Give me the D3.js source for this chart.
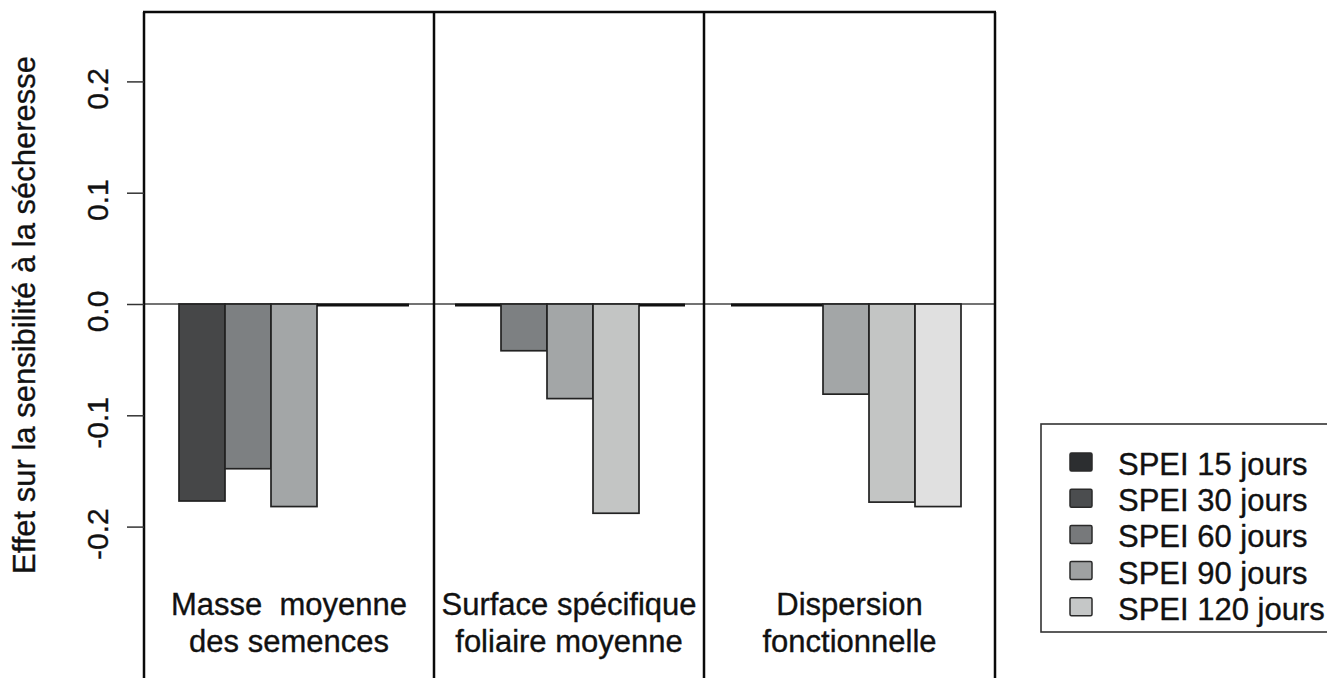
<!DOCTYPE html>
<html>
<head>
<meta charset="utf-8">
<script src="https://cdn.jsdelivr.net/npm/d3@7"></script>
<style>
  html, body { margin: 0; padding: 0; background: #fff; }
  svg { display: block; }
  text { font-family: "Liberation Sans", Arial, sans-serif; fill: #111; stroke: #111; stroke-width: 0.35px; }
</style>
</head>
<body>
<div id="vis"></div>
<script>

// categories (one entry per panel, split on two lines)
var categories = ['Masse  moyenne|des semences', 'Surface spécifique|foliaire moyenne', 'Dispersion|fonctionnelle'];
var series = ['SPEI 15 jours', 'SPEI 30 jours', 'SPEI 60 jours', 'SPEI 90 jours', 'SPEI 120 jours'];

// effect per SPEI window, in the order of series
var masseValues = [-0.177, -0.148, -0.182, 0, 0];
var surfaceValues = [0, -0.042, -0.085, -0.188, 0];
var dispersionValues = [0, 0, -0.081, -0.178, -0.182];

var yTicks = [-0.2, -0.1, 0.0, 0.1, 0.2];
var yTitle = 'Effet sur la sensibilité à la sécheresse';

var width = 1327;
var height = 678;

// bar fills and legend fills are not the same greys in the figure
var barColors = ['#464748', '#7d8082', '#a3a6a7', '#c3c5c4', '#e0e0e0'];
var legendColors = ['#2c2e30', '#4b4d4f', '#77797b', '#9fa1a2', '#c5c7c7'];

// frame: left border, the two dividers, right border
var panelEdges = [144, 434, 704, 995];
var frameTop = 12;

var rows = [masseValues, surfaceValues, dispersionValues].map(function (vals, i) {
  return { category: categories[i], values: vals };
});

var svg = d3.select('#vis')
  .append('svg')
  .attr('width', width)
  .attr('height', height);

var y = d3.scaleLinear()
  .domain([-0.2, 0.2])
  .range([526.6, 81.4]);

var x0 = d3.scaleBand()
  .domain(categories)
  .range([179, 961])
  .paddingInner(1 / 6)
  .paddingOuter(0);

var x1 = d3.scaleBand()
  .domain(series)
  .range([0, x0.bandwidth()]);

// zero line
svg.append('line')
  .attr('x1', panelEdges[0]).attr('x2', panelEdges[3])
  .attr('y1', y(0)).attr('y2', y(0))
  .attr('stroke', '#444')
  .attr('stroke-width', 1.3);

// bars
var groups = svg.selectAll('.group')
  .data(rows)
  .enter().append('g')
  .attr('class', 'group')
  .attr('transform', function (d) { return 'translate(' + x0(d.category) + ',0)'; });

groups.each(function (d) {
  var g = d3.select(this);
  d.values.forEach(function (v, i) {
    var name = series[i];
    if (v === 0) {
      // empty bar: only its border shows, as a thick line on zero
      g.append('line')
        .attr('x1', x1(name)).attr('x2', x1(name) + x1.bandwidth())
        .attr('y1', y(0) + 1).attr('y2', y(0) + 1)
        .attr('stroke', '#111')
        .attr('stroke-width', 2.8);
    } else {
      g.append('rect')
        .attr('x', x1(name))
        .attr('y', y(Math.max(0, v)))
        .attr('width', x1.bandwidth())
        .attr('height', Math.abs(y(v) - y(0)))
        .attr('fill', barColors[i])
        .attr('stroke', '#222')
        .attr('stroke-width', 1.7);
    }
  });
});

// frame lines
svg.append('line')
  .attr('x1', panelEdges[0] - 1).attr('x2', panelEdges[3] + 1)
  .attr('y1', frameTop).attr('y2', frameTop)
  .attr('stroke', '#0a0a0a').attr('stroke-width', 2.5);

svg.selectAll('.divider')
  .data(panelEdges)
  .enter().append('line')
  .attr('class', 'divider')
  .attr('x1', function (d) { return d; })
  .attr('x2', function (d) { return d; })
  .attr('y1', frameTop)
  .attr('y2', height)
  .attr('stroke', '#0a0a0a')
  .attr('stroke-width', 2.5);

// y axis
var yAxis = d3.axisLeft(y)
  .tickValues(yTicks)
  .tickSize(17)
  .tickFormat(function (d) { return d.toFixed(1); });

var axisG = svg.append('g')
  .attr('transform', 'translate(' + panelEdges[0] + ',0)')
  .call(yAxis);

axisG.select('.domain').remove();
axisG.selectAll('.tick line')
  .attr('stroke', '#333')
  .attr('stroke-width', 1.5);
axisG.selectAll('.tick text')
  .attr('x', null).attr('dy', null)
  .attr('transform', 'translate(-36,7) rotate(-90)')
  .attr('text-anchor', 'middle')
  .style('font-size', '30px')
  .style('font-family', '"Liberation Sans", Arial, sans-serif')
  .attr('fill', '#111');

// y title
svg.append('text')
  .attr('transform', 'translate(35,315) rotate(-90)')
  .attr('text-anchor', 'middle')
  .style('font-size', '31px')
  .text(yTitle);

// category labels, centered in their panel
categories.forEach(function (c, i) {
  var cx = (panelEdges[i] + panelEdges[i + 1]) / 2;
  c.split('|').forEach(function (line, j) {
    svg.append('text')
      .attr('x', cx)
      .attr('y', 615 + j * 37)
      .attr('text-anchor', 'middle')
      .style('font-size', '31px')
      .style('white-space', 'pre')
      .attr('xml:space', 'preserve')
      .text(line);
  });
});

// legend
var legend = svg.append('g')
  .attr('transform', 'translate(1041,424)');

legend.append('rect')
  .attr('x', 0).attr('y', 0)
  .attr('width', 300).attr('height', 208)
  .attr('fill', 'none')
  .attr('stroke', '#333')
  .attr('stroke-width', 1.6);

var items = legend.selectAll('.item')
  .data(series)
  .enter().append('g')
  .attr('class', 'item')
  .attr('transform', function (d, i) { return 'translate(0,' + (38 + i * 36.2) + ')'; });

items.append('rect')
  .attr('x', 29).attr('y', -9)
  .attr('width', 22).attr('height', 18)
  .attr('rx', 1.5)
  .attr('fill', function (d, i) { return legendColors[i]; })
  .attr('stroke', '#2a2a2a')
  .attr('stroke-width', 1.5);

items.append('text')
  .attr('x', 77)
  .attr('y', 13)
  .style('font-size', '31px')
  .text(function (d) { return d; });

</script>
</body>
</html>
